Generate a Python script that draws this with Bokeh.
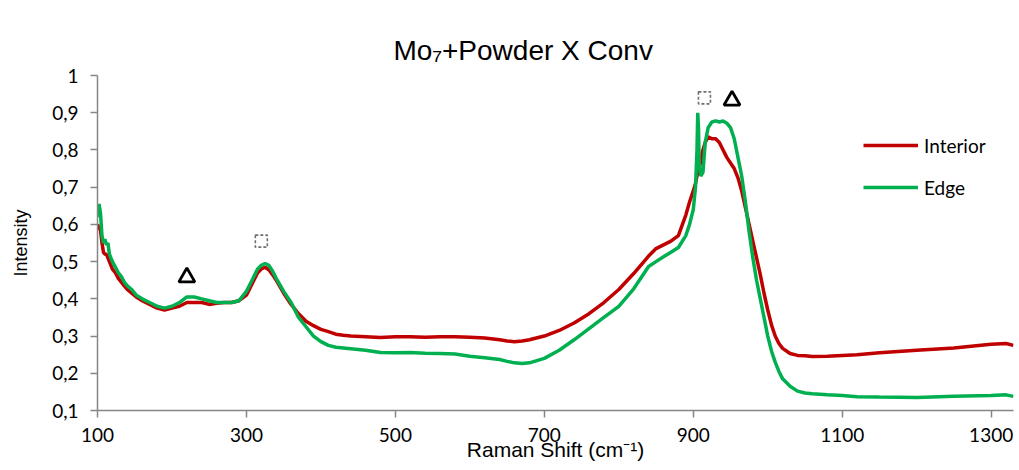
from bokeh.plotting import figure
from bokeh.models import Legend, LegendItem, FixedTicker, LinearAxis, Title
from bokeh.embed import file_html
from bokeh.resources import INLINE

# ---------------- data ----------------
raman_shift = [
    100, 102, 104, 106, 108, 110, 112, 114, 116, 118,
    120, 124, 128, 132, 136, 140, 146, 152, 160, 170,
    180, 190, 200, 210, 220, 230, 240, 250, 260, 270,
    280, 290, 300, 305, 310, 315, 320, 325, 330, 335,
    340, 350, 360, 370, 380, 390, 400, 410, 420, 430,
    440, 460, 480, 500, 520, 540, 560, 580, 600, 620,
    640, 650, 660, 670, 680, 700, 720, 740, 760, 780,
    800, 820, 840, 850, 860, 870, 880, 890, 895, 900,
    903, 905, 906, 907, 908, 910, 913, 916, 920, 925,
    930, 935, 940, 945, 950, 955, 960, 965, 970, 975,
    980, 985, 990, 995, 1000, 1005, 1010, 1015, 1020, 1030,
    1040, 1050, 1060, 1080, 1100, 1120, 1150, 1200, 1250, 1300,
    1320, 1330,
]
interior = [
    0.60, 0.59, 0.585, 0.55, 0.525, 0.52, 0.52, 0.51, 0.50, 0.49,
    0.48, 0.47, 0.455, 0.445, 0.435, 0.425, 0.415, 0.405, 0.395, 0.385,
    0.375, 0.37, 0.375, 0.38, 0.39, 0.39, 0.39, 0.385, 0.388, 0.39,
    0.39, 0.395, 0.41, 0.43, 0.45, 0.47, 0.48, 0.485, 0.478, 0.465,
    0.45, 0.415, 0.385, 0.36, 0.34, 0.328, 0.318, 0.312, 0.305, 0.302,
    0.30, 0.298, 0.296, 0.298, 0.298, 0.297, 0.298, 0.298, 0.297, 0.295,
    0.29, 0.287, 0.285, 0.287, 0.29, 0.30, 0.315, 0.335, 0.36, 0.39,
    0.425, 0.468, 0.515, 0.535, 0.545, 0.555, 0.57, 0.625, 0.66, 0.69,
    0.71, 0.73, 0.74, 0.745, 0.75, 0.77, 0.80, 0.82, 0.835, 0.83,
    0.83, 0.82, 0.80, 0.78, 0.765, 0.75, 0.725, 0.69, 0.645, 0.60,
    0.555, 0.51, 0.465, 0.415, 0.37, 0.33, 0.30, 0.28, 0.267, 0.253,
    0.248, 0.247, 0.245, 0.246, 0.248, 0.25, 0.255, 0.262, 0.268, 0.278,
    0.28, 0.275,
]
edge = [
    0.62, 0.655, 0.63, 0.57, 0.55, 0.56, 0.545, 0.55, 0.52, 0.51,
    0.50, 0.485, 0.47, 0.46, 0.445, 0.435, 0.425, 0.41, 0.40, 0.39,
    0.38, 0.375, 0.38, 0.39, 0.405, 0.405, 0.40, 0.395, 0.39, 0.39,
    0.39, 0.395, 0.42, 0.44, 0.46, 0.48, 0.49, 0.495, 0.49, 0.475,
    0.455, 0.42, 0.39, 0.35, 0.325, 0.30, 0.285, 0.275, 0.27, 0.268,
    0.266, 0.262, 0.256, 0.255, 0.256, 0.254, 0.253, 0.252, 0.246, 0.242,
    0.237, 0.232, 0.228, 0.226, 0.228, 0.24, 0.262, 0.29, 0.32, 0.35,
    0.38, 0.427, 0.487, 0.50, 0.513, 0.525, 0.538, 0.57, 0.60, 0.64,
    0.70, 0.80, 0.90, 0.86, 0.76, 0.73, 0.74, 0.82, 0.86, 0.875,
    0.878, 0.875, 0.878, 0.872, 0.86, 0.83, 0.78, 0.73, 0.66, 0.58,
    0.51, 0.45, 0.40, 0.35, 0.30, 0.26, 0.23, 0.205, 0.185, 0.165,
    0.152, 0.147, 0.145, 0.142, 0.14, 0.137, 0.136, 0.135, 0.138, 0.14,
    0.142, 0.138,
]
series_names = ["Interior", "Edge"]

triangle_x = [220, 952]
triangle_y = [0.458, 0.933]
box_x = [320, 915]
box_y = [0.555, 0.940]

x_ticks = [100, 300, 500, 700, 900, 1100, 1300]
y_ticks = [0.1, 0.2, 0.3, 0.4, 0.5, 0.6, 0.7, 0.8, 0.9, 1.0]
y_tick_labels = ["0,1", "0,2", "0,3", "0,4", "0,5", "0,6", "0,7", "0,8", "0,9", "1"]

title_text = "Mo\u2087+Powder X Conv"
x_label = "Raman Shift (cm\u207b\u00b9)"
y_label = "Intensity"

# ---------------- figure ----------------
RED = "#C00000"
GREEN = "#00B050"
AXIS = "#868686"
TICK_FONT = "Lato"

p = figure(width=1019, height=470, output_backend="svg", toolbar_location=None,
           title=None, x_range=(100, 1330), y_range=(0.1, 1.0),
           min_border_left=97, min_border_right=6, min_border_top=75, min_border_bottom=60)
p.outline_line_color = None
p.xgrid.visible = False
p.ygrid.visible = False
p.background_fill_color = "white"
p.border_fill_color = "white"

xa = p.below[0]
ya = p.left[0]

# invisible spacer between frame and title (lifts the title)
spacer = LinearAxis(ticker=FixedTicker(ticks=[]), axis_line_color=None,
                    major_tick_line_color=None, minor_tick_line_color=None,
                    major_tick_out=23, major_tick_in=0, major_label_standoff=0)
p.add_layout(spacer, "above")

title = Title(text=title_text, align="left", offset=296, vertical_align="top",
              text_font="Liberation Sans", text_font_size="28px",
              text_font_style="normal", text_color="black", standoff=16)
p.add_layout(title, "above")

r_int = p.line(raman_shift, interior, line_color=RED, line_width=3.5)
r_edge = p.line(raman_shift, edge, line_color=GREEN, line_width=3.5)

p.scatter(triangle_x, triangle_y, marker="triangle", size=16, line_color="black",
          line_width=2.8, fill_color="white")
p.scatter(box_x, box_y, marker="square", size=12, line_color="#6f6f6f",
          line_width=1.6, line_dash="3 2", fill_color=None)

# axes
for ax in (xa, ya):
    ax.axis_line_color = AXIS
    ax.axis_line_width = 1.5
    ax.major_tick_line_color = AXIS
    ax.major_tick_line_width = 1.5
    ax.major_tick_out = 7
    ax.major_tick_in = 0
    ax.minor_tick_line_color = None
    ax.major_label_text_font = TICK_FONT
    ax.major_label_text_font_size = "19px"
    ax.major_label_text_color = "black"

xa.ticker = FixedTicker(ticks=x_ticks)
xa.major_label_standoff = 10
xa.axis_label = x_label
xa.axis_label_text_font = "Liberation Sans"
xa.axis_label_text_font_size = "21px"
xa.axis_label_text_font_style = "normal"
xa.axis_label_text_color = "black"
xa.axis_label_standoff = -7

ya.ticker = FixedTicker(ticks=y_ticks)
ya.major_label_overrides = {t: l for t, l in zip(y_ticks, y_tick_labels)}
ya.major_label_standoff = 12
ya.axis_label = y_label
ya.axis_label_text_font = "Liberation Sans"
ya.axis_label_text_font_size = "18px"
ya.axis_label_text_font_style = "normal"
ya.axis_label_text_color = "black"
ya.axis_label_standoff = 18

legend = Legend(items=[LegendItem(label=series_names[0], renderers=[r_int]),
                       LegendItem(label=series_names[1], renderers=[r_edge])],
                location=(766, 211))
legend.label_text_font = TICK_FONT
legend.label_text_font_size = "19px"
legend.label_text_color = "black"
legend.glyph_width = 55
legend.glyph_height = 24
legend.label_height = 24
legend.spacing = 18
legend.padding = 0
legend.margin = 0
legend.label_standoff = 6
legend.border_line_color = None
legend.background_fill_alpha = 0
p.add_layout(legend)

open("out.html", "w").write(file_html(p, INLINE))
